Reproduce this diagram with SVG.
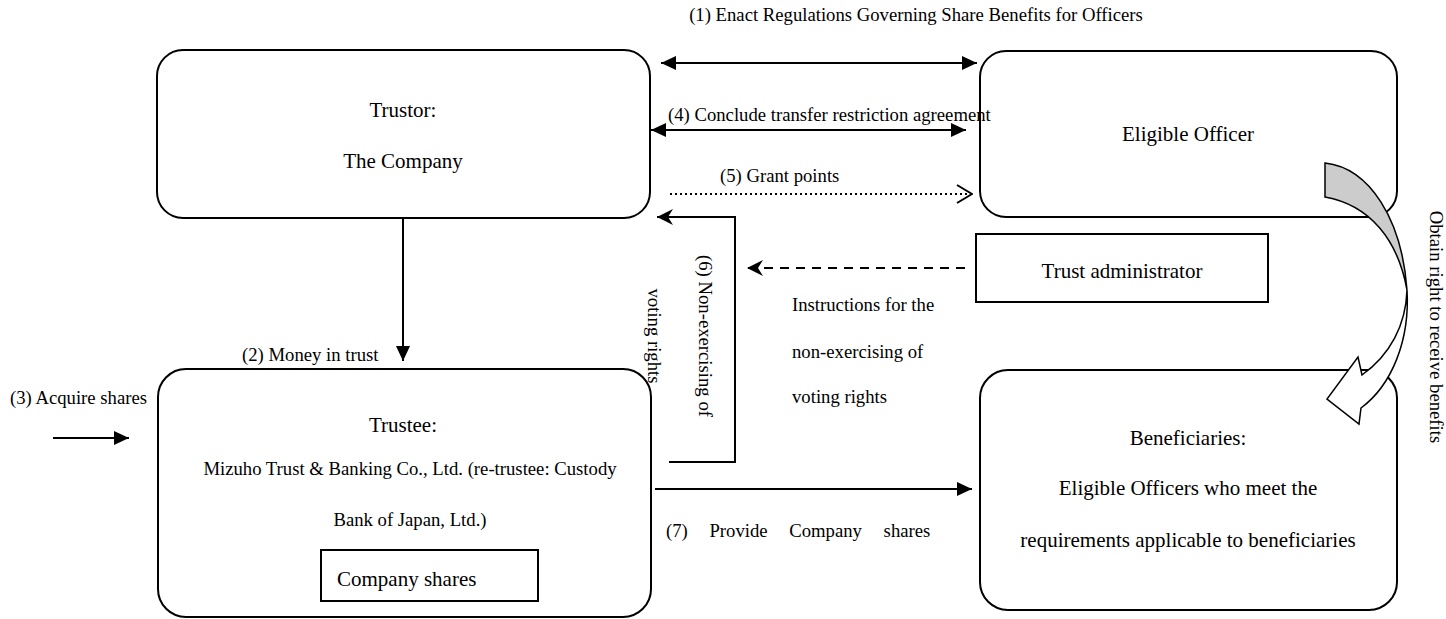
<svg xmlns="http://www.w3.org/2000/svg" width="1446" height="619" viewBox="0 0 1446 619" font-family="'Liberation Serif', 'Times New Roman', serif">
<style>
  .box { fill: #fff; stroke: #000; stroke-width: 2; }
  .big { font-family: 'Liberation Serif', 'Times New Roman', serif; font-size: 21px; fill: #000; }
  .sm { font-family: 'Liberation Serif', 'Times New Roman', serif; font-size: 18.7px; fill: #000; }
  .ln { fill: none; stroke: #000; stroke-width: 2; }
</style>
<defs>
  <marker id="tri" viewBox="0 0 15 14" refX="15" refY="7" markerWidth="15" markerHeight="14" markerUnits="userSpaceOnUse" orient="auto-start-reverse">
    <path d="M0,0 L15,7 L0,14 z" fill="#000"/>
  </marker>
  <marker id="stealth" viewBox="0 0 16 16" refX="16" refY="8" markerWidth="16" markerHeight="16" markerUnits="userSpaceOnUse" orient="auto">
    <path d="M0,0 L16,8 L0,16 L5,8 z" fill="#000"/>
  </marker>
  <marker id="open" viewBox="0 0 17 20" refX="16" refY="10" markerWidth="17" markerHeight="20" markerUnits="userSpaceOnUse" orient="auto">
    <path d="M1,1 L16,10 L1,19" fill="none" stroke="#000" stroke-width="2"/>
  </marker>
</defs>
<rect width="1446" height="619" fill="#fff"/>

<g id="trustor">
  <rect class="box" x="157" y="50" width="493" height="168" rx="26"/>
  <text class="big" x="403" y="117" text-anchor="middle">Trustor:</text>
  <text class="big" x="403" y="168" text-anchor="middle">The Company</text>
</g>

<g id="eligible-officer">
  <rect class="box" x="980" y="51" width="417" height="166" rx="26"/>
  <text class="big" x="1188" y="141" text-anchor="middle">Eligible Officer</text>
</g>

<g id="trust-administrator">
  <rect class="box" x="976" y="234" width="292" height="68"/>
  <text class="big" x="1122" y="278" text-anchor="middle">Trust administrator</text>
</g>

<g id="trustee">
  <rect class="box" x="158" y="369" width="493" height="248" rx="28"/>
  <text class="big" x="403" y="432" text-anchor="middle">Trustee:</text>
  <text class="sm" x="410" y="475" text-anchor="middle">Mizuho Trust &amp; Banking Co., Ltd. (re-trustee: Custody</text>
  <text class="sm" x="410" y="526" text-anchor="middle">Bank of Japan, Ltd.)</text>
  <rect class="box" x="321" y="550" width="217" height="51"/>
  <text class="big" x="337" y="586">Company shares</text>
</g>

<g id="beneficiaries">
  <rect class="box" x="980" y="370" width="417" height="240" rx="28"/>
  <text class="big" x="1188" y="445" text-anchor="middle">Beneficiaries:</text>
  <text class="big" x="1188" y="495" text-anchor="middle">Eligible Officers who meet the</text>
  <text class="big" x="1188" y="547" text-anchor="middle">requirements applicable to beneficiaries</text>
</g>

<g id="curved-arrow">
  <path d="M1325,163 C1370,168 1402,220 1407,290 C1398,240 1370,205 1325,197 Z" fill="#ccc" stroke="#000" stroke-width="1.5"/>
  <path d="M1407,290 C1406,325 1390,355 1362,375 L1358,357 L1327,399 L1359,424 L1361,408 C1392,385 1410,340 1407,290 Z" fill="#fff" stroke="#000" stroke-width="1.5"/>
</g>

<g id="connectors">
  <line class="ln" x1="661" y1="63" x2="977" y2="63" marker-start="url(#tri)" marker-end="url(#tri)"/>
  <line class="ln" x1="651" y1="130" x2="966" y2="130" marker-start="url(#tri)" marker-end="url(#tri)"/>
  <line class="ln" x1="670" y1="194" x2="972" y2="194" stroke-dasharray="2,3" marker-end="url(#open)"/>
  <line class="ln" x1="403" y1="218" x2="403" y2="361" marker-end="url(#tri)"/>
  <line class="ln" x1="53" y1="438" x2="129" y2="438" marker-end="url(#tri)"/>
  <polyline class="ln" points="669,462 735,462 735,217 657,217" marker-end="url(#stealth)"/>
  <line class="ln" x1="965" y1="268" x2="747" y2="268" stroke-dasharray="9,7" marker-end="url(#stealth)"/>
  <line class="ln" x1="655" y1="489" x2="972" y2="489" marker-end="url(#tri)"/>
  <text class="sm" x="916" y="21" text-anchor="middle">(1) Enact Regulations Governing Share Benefits for Officers</text>
  <text class="sm" x="668" y="121">(4) Conclude transfer restriction agreement</text>
  <text class="sm" x="720" y="182">(5) Grant points</text>
  <text class="sm" x="242" y="361">(2) Money in trust</text>
  <text class="sm" x="10" y="404">(3) Acquire shares</text>
  <text class="sm" transform="translate(699,336) rotate(90)" text-anchor="middle">(6) Non-exercising of</text>
  <text class="sm" transform="translate(648,336) rotate(90)" text-anchor="middle">voting rights</text>
  <text class="sm" x="792" y="311">Instructions for the</text>
  <text class="sm" x="792" y="358">non-exercising of</text>
  <text class="sm" x="792" y="403">voting rights</text>
  <text class="sm" x="666" y="537" word-spacing="17">(7) Provide Company shares</text>
  <text class="sm" transform="translate(1430,327) rotate(90)" text-anchor="middle">Obtain right to receive benefits</text>
</g>
</svg>
